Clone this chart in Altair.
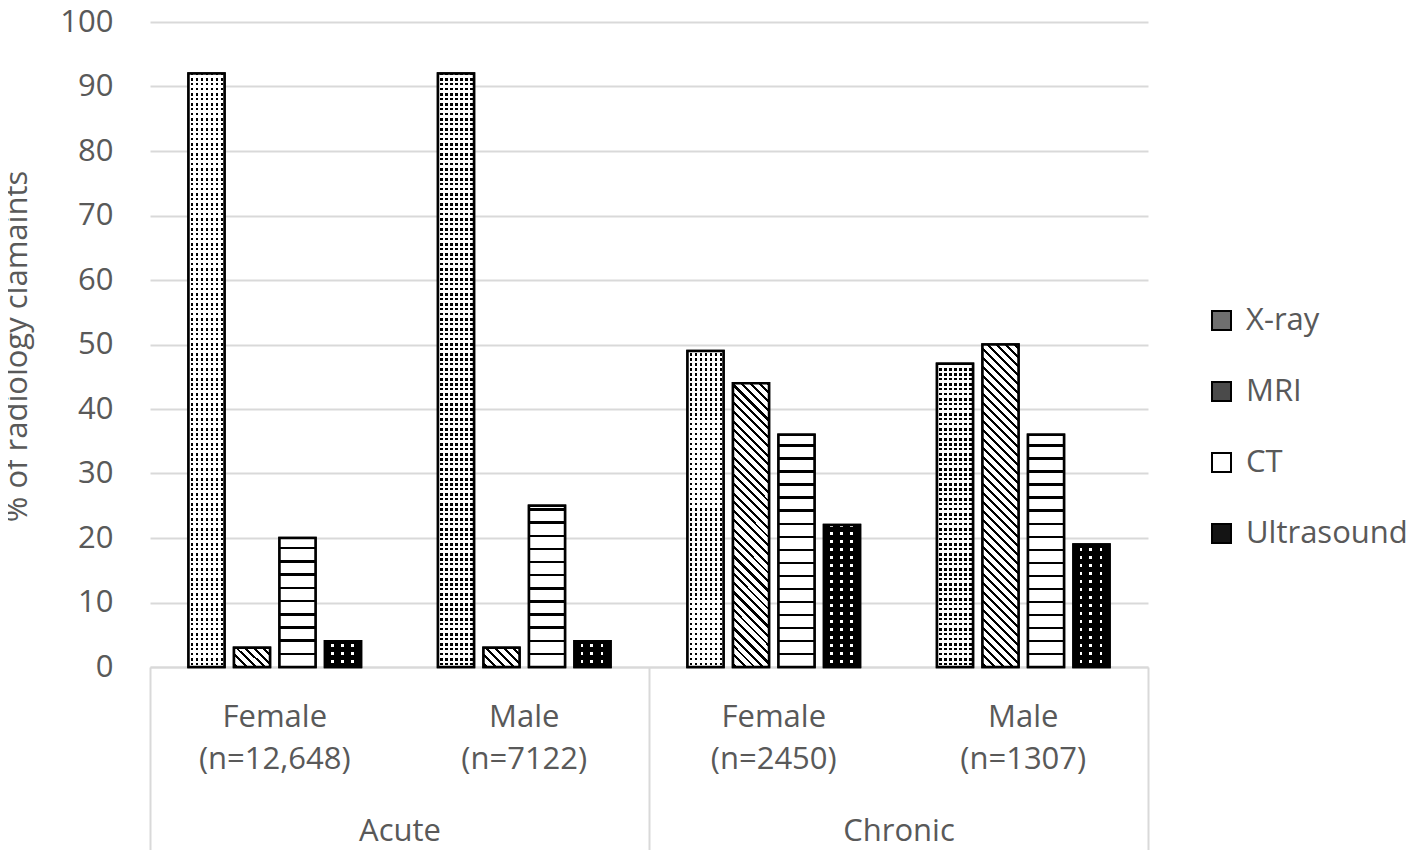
import altair as alt
import pandas as pd

# ---------------- data ----------------
groups = ["Female|(n=12,648)", "Male|(n=7122)", "Female|(n=2450)", "Male|(n=1307)"]
types = ["Acute", "Acute", "Chronic", "Chronic"]
series = ["X-ray", "MRI", "CT", "Ultrasound"]
xray = [92, 92, 49, 47]
mri = [3, 3, 44, 50]
ct = [20, 25, 36, 36]
ultrasound = [4, 4, 22, 19]
legend_tones = ["#6f6f6f", "#4a4a4a", "#ffffff", "#141414"]

# ---------------- layout / style ----------------
PLOT_W, PLOT_H = 998, 645
BAR_W = 36.0
FONT = "Open Sans"
FS = 31
TEXT = "#595959"
GRID = "#d9d9d9"

rows = []
for s, vals in zip(series, [xray, mri, ct, ultrasound]):
    for g, t, v in zip(groups, types, vals):
        rows.append({"group": g, "type": t, "series": s, "value": v})
df = pd.DataFrame(rows)


def r(x):
    return round(x, 5)


def band_stops(length, period, thick, start, c_on, c_off):
    stops = [{"offset": 0, "color": c_off}]
    pos = start
    while pos < length:
        a = max(pos, 0.0)
        b = min(pos + thick, length)
        if b > a:
            stops += [
                {"offset": r(a / length), "color": c_off},
                {"offset": r(a / length), "color": c_on},
                {"offset": r(b / length), "color": c_on},
                {"offset": r(b / length), "color": c_off},
            ]
        pos += period
    stops.append({"offset": 1, "color": c_off})
    return stops


def horiz(stops):
    return {"gradient": "linear", "x1": 0, "y1": 0, "x2": 1, "y2": 0, "stops": stops}


def vert_up(stops):
    return {"gradient": "linear", "x1": 0, "y1": 1, "x2": 0, "y2": 0, "stops": stops}


def diag(h, stops):
    w = BAR_W
    a = w * (w + h) / (w * w + h * h)
    return {"gradient": "linear", "x1": 0, "y1": 1, "x2": r(a), "y2": r(1 - a * h / w), "stops": stops}


def px(v):
    return v / 100.0 * PLOT_H


def only(s, g=None):
    if g is None:
        return f"datum.series === '{s}'"
    return f"datum.series === '{s}' && datum.group === '{g}'"


CLEAR_W = "rgba(255,255,255,0)"
CLEAR_K = "rgba(0,0,0,0)"

# ---------------- layers ----------------
base = alt.Chart().mark_bar(stroke="black", strokeWidth=2.5).encode(
    fill=alt.Fill(
        "series:N",
        scale=alt.Scale(domain=series, range=legend_tones),
        legend=alt.Legend(
            title=None, orient="none", legendX=1056, legendY=283,
            symbolType="square", symbolSize=361, symbolStrokeColor="black",
            symbolStrokeWidth=2, labelFont=FONT, labelFontSize=FS, labelColor=TEXT,
            labelOffset=9, rowPadding=39, padding=0, labelLimit=400,
        ),
    )
)

overlays = []
# X-ray : dotted grid (columns of black cut by white rows)
overlays.append(
    alt.Chart().transform_filter(only("X-ray")).mark_bar(
        fill=horiz(band_stops(BAR_W, 5.0, 2.6, 2.3, "black", "white")), strokeWidth=0)
)
for g, v in zip(groups, xray):
    h = px(v)
    overlays.append(
        alt.Chart().transform_filter(only("X-ray", g)).mark_bar(
            fill=vert_up(band_stops(h, 5.0, 2.6, 1.5, CLEAR_W, "white")), strokeWidth=0)
    )
# MRI : diagonal stripes
for g, v in zip(groups, mri):
    h = px(v)
    overlays.append(
        alt.Chart().transform_filter(only("MRI", g)).mark_bar(
            fill=diag(h, band_stops(BAR_W + h, 9.0, 3.0, 2.0, "black", "white")), strokeWidth=0)
    )
# CT : horizontal lines
for g, v in zip(groups, ct):
    h = px(v)
    overlays.append(
        alt.Chart().transform_filter(only("CT", g)).mark_bar(
            fill=vert_up(band_stops(h - 4, 12.8, 2.5, 11.5, "black", "white")), strokeWidth=0)
    )
# Ultrasound : white dots on black
overlays.append(
    alt.Chart().transform_filter(only("Ultrasound")).mark_bar(
        fill=horiz(band_stops(BAR_W, 10.0, 2.6, 6.0, "white", "black")), strokeWidth=0)
)
for g, v in zip(groups, ultrasound):
    h = px(v)
    overlays.append(
        alt.Chart().transform_filter(only("Ultrasound", g)).mark_bar(
            fill=vert_up(band_stops(h, 8.0, 2.6, 4.0, CLEAR_K, "black")), strokeWidth=0)
    )

outline = alt.Chart().mark_bar(fill="transparent", stroke="black", strokeWidth=2.5)

bars = alt.layer(base, *overlays, outline, data=df).encode(
    x=alt.X(
        "group:N",
        scale=alt.Scale(domain=groups, paddingInner=0, paddingOuter=0),
        axis=alt.Axis(
            title=None, labelExpr="split(datum.label, '|')", labelFont=FONT,
            labelFontSize=FS, labelColor=TEXT, labelLineHeight=42, labelPadding=35,
            labelAngle=0, labelLimit=400, ticks=False, tickSize=0, grid=False,
            domainColor=GRID, domainWidth=2,
        ),
    ),
    xOffset=alt.XOffset(
        "series:N", scale=alt.Scale(domain=series, paddingInner=0.20879, paddingOuter=0.84615)
    ),
    y=alt.Y(
        "value:Q",
        scale=alt.Scale(domain=[0, 100], nice=False),
        axis=alt.Axis(
            title="% of radiology clamaints", values=list(range(0, 101, 10)),
            labelFont=FONT, labelFontSize=FS, labelColor=TEXT, labelPadding=37,
            ticks=False, tickSize=0, domain=False, gridColor=GRID, gridWidth=2,
            titleFont=FONT, titleFontSize=FS, titleColor=TEXT, titleFontWeight="normal",
            titleX=-124, titleY=324, titleBaseline="alphabetic", titleAngle=270,
        ),
    ),
)

type_df = pd.DataFrame({"type": list(dict.fromkeys(types))})
type_layer = alt.Chart(type_df).mark_text(text="").encode(
    x=alt.X(
        "type:N",
        scale=alt.Scale(type="band", domain=list(dict.fromkeys(types)), paddingInner=0, paddingOuter=0),
        axis=alt.Axis(
            title=None, orient="bottom", domain=False, ticks=True, tickBand="extent",
            tickSize=183, tickColor=GRID, tickWidth=2, labelBaseline="line-bottom",
            labelLineHeight=38, labelPadding=0, labelFont=FONT, labelFontSize=FS,
            labelColor=TEXT, labelAngle=0, grid=False,
        ),
    )
)

chart = (
    alt.layer(bars, type_layer)
    .resolve_scale(x="independent")
    .properties(
        width=PLOT_W, height=PLOT_H,
        autosize=alt.AutoSizeParams(type="none"),
        padding={"left": 142, "top": 14, "right": 262, "bottom": 183},
    )
    .configure(font=FONT)
    .configure_view(stroke=None)
)

chart.save("out.html", embed_options={"renderer": "svg", "actions": False})
